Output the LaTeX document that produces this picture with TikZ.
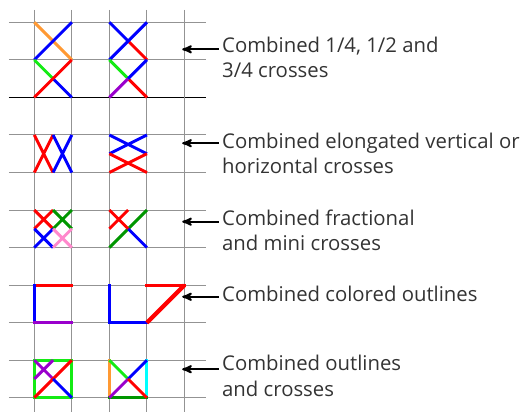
\documentclass[tikz,border=0pt]{standalone}
\usepackage{fontspec}
\setmainfont{Open Sans}
\usepackage{tikz}
\usetikzlibrary{arrows}
\usetikzlibrary{positioning}

\definecolor{xorange}{RGB}{255,153,51}
\definecolor{xgreen}{RGB}{20,235,20}
\definecolor{xdkgreen}{RGB}{0,150,0}
\definecolor{xpurple}{RGB}{153,0,204}
\definecolor{xpink}{RGB}{255,136,204}
\definecolor{xcyan}{RGB}{0,255,255}
\definecolor{labeltext}{RGB}{51,51,51}

\tikzset{
  gridline/.style={color=gray!85, line width=0.8pt},
  stroke/.style={line width=2.2pt},
  edge/.style={line width=2.2pt, line cap=rect},
  callout/.style={anchor=base west, inner xsep=2.5pt, inner ysep=0pt, align=left,
    text=labeltext, font=\fontsize{15.4}{19.2}\selectfont},
  pointer/.style={-stealth', line width=1.5pt}
}

\newcommand{\minicross}[5]{\draw[stroke, #1] (#2,#3) -- (#4,#5) (#2,#5) -- (#4,#3);}

\begin{document}
\begin{tikzpicture}
  \useasboundingbox (-0.913,0.594) rectangle (13.15,-10.378);

  % grid
  \foreach \y in {0,...,10}
    \draw[gridline] (-0.674,-\y) -- (4.565,-\y);
  \draw[gridline, color=black] (-0.674,-2) -- (4.565,-2);
  \foreach \x in {0,...,4}
    \draw[gridline] (\x,0.33) -- (\x,-10.5);

  % 1/4, 1/2 and 3/4 crosses
  \draw[stroke, xorange] (0,0) -- (1,-1);
  \draw[stroke, blue] (0,-1) -- (1,0);
  \draw[stroke, xgreen] (0,-1) -- (0.5,-1.5);
  \draw[stroke, blue] (0.5,-1.5) -- (1,-2);
  \draw[stroke, red] (0,-2) -- (1,-1);

  \draw[stroke, blue] (2,0) -- (2.5,-0.5);
  \draw[stroke, red] (2.5,-0.5) -- (3,-1);
  \draw[stroke, blue] (2,-1) -- (3,0);
  \draw[stroke, xgreen] (2,-1) -- (2.5,-1.5);
  \draw[stroke, red] (2.5,-1.5) -- (3,-2);
  \draw[stroke, xpurple] (2,-2) -- (2.5,-1.5);
  \draw[stroke, blue] (2.5,-1.5) -- (3,-1);

  % elongated crosses
  \minicross{red}{0}{-3}{0.5}{-4}
  \minicross{blue}{0.5}{-3}{1}{-4}
  \minicross{blue}{2}{-3}{3}{-3.5}
  \minicross{red}{2}{-3.5}{3}{-4}

  % fractional and mini crosses
  \minicross{red}{0}{-5}{0.5}{-5.5}
  \minicross{xdkgreen}{0.5}{-5}{1}{-5.5}
  \minicross{blue}{0}{-5.5}{0.5}{-6}
  \minicross{xpink}{0.5}{-5.5}{1}{-6}

  \draw[stroke, xdkgreen] (2,-6) -- (3,-5);
  \draw[stroke, blue] (2.5,-5.5) -- (3,-6);
  \minicross{red}{2}{-5}{2.5}{-5.5}

  % colored outlines
  \draw[edge, red] (0,-7) -- (1,-7);
  \draw[edge, blue] (0,-7) -- (0,-8);
  \draw[edge, xpurple] (0,-8) -- (1,-8);

  \draw[edge, blue] (2,-7) -- (2,-8) -- (3,-8);
  \draw[edge, red] (3,-7) -- (4,-7);
  \draw[line width=3.2pt, red] (3,-8) -- (4,-7);

  % outlines and crosses
  \draw[edge, xgreen] (0,-9) rectangle (1,-10);
  \minicross{xpurple}{0}{-9}{0.5}{-9.5}
  \draw[stroke, red] (0,-10) -- (1,-9);
  \draw[stroke, blue] (0.5,-9.5) -- (1,-10);

  \draw[edge, xorange] (2,-9) -- (2,-10);
  \draw[edge, xcyan] (3,-9) -- (3,-10);
  \draw[edge, xdkgreen] (2,-10) -- (3,-10);
  \draw[stroke, xgreen] (2,-9) -- (2.5,-9.5);
  \draw[stroke, blue] (2.5,-9.5) -- (3,-9);
  \draw[stroke, xpurple] (2,-10) -- (2.5,-9.5);
  \draw[stroke, red] (2.5,-9.5) -- (3,-10);

  % labels (base is the last line)
  \coordinate (t1) at (3.94,-0.72);
  \coordinate (t2) at (3.94,-3.22);
  \coordinate (t3) at (3.94,-5.31);
  \coordinate (t4) at (3.94,-7.31);
  \coordinate (t5) at (3.94,-9.24);

  \node[callout] (l1) at (4.91,-1.48) {Combined 1/4, 1/2 and\\3/4 crosses};
  \node[callout] (l2) at (4.91,-4.04) {Combined elongated vertical or\\horizontal crosses};
  \node[callout] (l3) at (4.91,-6.08) {Combined fractional\\and mini crosses};
  \node[callout] (l4) at (4.91,-7.44) {Combined colored outlines};
  \node[callout] (l5) at (4.91,-9.96) {Combined outlines\\and crosses};

  \draw[pointer] (l1.west |- t1) -- (t1);
  \draw[pointer] (l2.west |- t2) -- (t2);
  \draw[pointer] (l3.west |- t3) -- (t3);
  \draw[pointer] (l4.west |- t4) -- (t4);
  \draw[pointer] (l5.west |- t5) -- (t5);
\end{tikzpicture}
\end{document}
